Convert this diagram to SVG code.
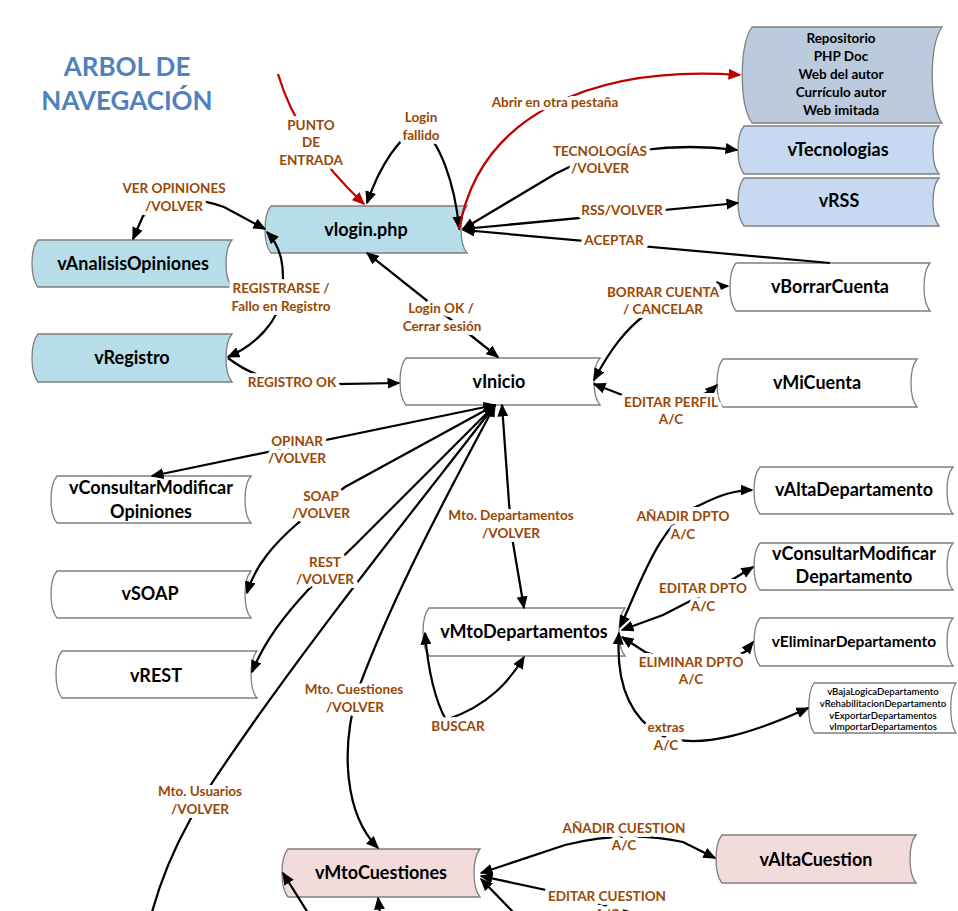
<svg xmlns="http://www.w3.org/2000/svg" width="958" height="911" viewBox="0 0 958 911">
<style>
.nd{stroke:#7f7f7f;stroke-width:1.3}
.blue{fill:#b7dde8}
.wht{fill:#ffffff}
.pink{fill:#f2dcdb}
.lb{fill:#c6d9f1}
.gb{fill:#bccadd}
.nt{font-family:Lato,"Liberation Sans",sans-serif;font-weight:bold;font-size:18px;fill:#000;text-anchor:middle}
.sm{font-size:13.5px}
.xs{font-family:Lato,"Liberation Sans",sans-serif;font-size:9.6px;font-weight:600;fill:#000;text-anchor:middle}
.c{fill:none;stroke:#000;stroke-width:2.25}
.r{fill:none;stroke:#c00000;stroke-width:2.25}
.lbl{font-family:Lato,"Liberation Sans",sans-serif;font-weight:bold;font-size:13.5px;fill:#984806;text-anchor:middle;paint-order:stroke;stroke:#fff;stroke-width:8;stroke-linejoin:round}
.title{font-family:Lato,"Liberation Sans",sans-serif;font-weight:bold;font-size:26px;fill:#4f81bd;text-anchor:middle}
</style>
<defs>
<marker id="ah" viewBox="0 0 13 11" refX="11.5" refY="5.5" markerWidth="13" markerHeight="11" markerUnits="userSpaceOnUse" orient="auto-start-reverse"><path d="M0,0 L13,5.5 L0,11 z" fill="#000"/></marker>
<marker id="ahr" viewBox="0 0 13 11" refX="11.5" refY="5.5" markerWidth="13" markerHeight="11" markerUnits="userSpaceOnUse" orient="auto-start-reverse"><path d="M0,0 L13,5.5 L0,11 z" fill="#c00000"/></marker>
</defs>
<rect width="958" height="911" fill="#fff"/>
<g id="title">
<text class="title" x="127" y="76">ARBOL DE</text>
<text class="title" x="127" y="110">NAVEGACIÓN</text>
</g>
<g id="nodes">
<g id="vlogin"><path class="nd blue" d="M271,206 H467 C459,215.4 459,243.6 467,253 H271 C263,243.6 263,215.4 271,206 Z"/><text class="nt" x="366" y="236">vlogin.php</text></g>
<g id="vAnalisisOpiniones"><path class="nd blue" d="M38,240 H232 C224,249.4 224,277.6 232,287 H38 C30,277.6 30,249.4 38,240 Z"/><text class="nt" x="133" y="270">vAnalisisOpiniones</text></g>
<g id="vRegistro"><path class="nd blue" d="M38,334 H232 C224,343.6 224,372.4 232,382 H38 C30,372.4 30,343.6 38,334 Z"/><text class="nt" x="132" y="364">vRegistro</text></g>
<g id="vInicio"><path class="nd wht" d="M406,358 H600 C592,367.4 592,395.6 600,405 H406 C398,395.6 398,367.4 406,358 Z"/><text class="nt" x="499" y="388">vInicio</text></g>
<g id="vConsultarModificarOpiniones"><path class="nd wht" d="M57,476 H251 C243,485.4 243,513.6 251,523 H57 C49,513.6 49,485.4 57,476 Z"/><text class="nt" x="151" y="494">vConsultarModificar</text><text class="nt" x="151" y="518">Opiniones</text></g>
<g id="vSOAP"><path class="nd wht" d="M57,571 H251 C243,580.4 243,608.6 251,618 H57 C49,608.6 49,580.4 57,571 Z"/><text class="nt" x="150" y="600">vSOAP</text></g>
<g id="vREST"><path class="nd wht" d="M62,651 H257 C249,660.4 249,688.6 257,698 H62 C54,688.6 54,660.4 62,651 Z"/><text class="nt" x="156" y="682">vREST</text></g>
<g id="vMtoDepartamentos"><path class="nd wht" d="M429,608 H625 C617,617.6 617,646.4 625,656 H429 C421,646.4 421,617.6 429,608 Z"/><text class="nt" x="524" y="638">vMtoDepartamentos</text></g>
<g id="vMtoCuestiones"><path class="nd pink" d="M288,849 H480 C472,858.6 472,887.4 480,897 H288 C280,887.4 280,858.6 288,849 Z"/><text class="nt" x="381" y="879">vMtoCuestiones</text></g>
<g id="vBorrarCuenta"><path class="nd wht" d="M736,263 H930 C922,272.6 922,301.4 930,311 H736 C728,301.4 728,272.6 736,263 Z"/><text class="nt" x="830" y="293">vBorrarCuenta</text></g>
<g id="vMiCuenta"><path class="nd wht" d="M723,359 H917 C909,368.6 909,397.4 917,407 H723 C715,397.4 715,368.6 723,359 Z"/><text class="nt" x="817" y="389">vMiCuenta</text></g>
<g id="vAltaDepartamento"><path class="nd wht" d="M760,467 H953 C945,476.4 945,504.6 953,514 H760 C752,504.6 752,476.4 760,467 Z"/><text class="nt" x="854" y="496">vAltaDepartamento</text></g>
<g id="vConsultarModificarDepartamento"><path class="nd wht" d="M760,543 H953 C945,552.4 945,580.6 953,590 H760 C752,580.6 752,552.4 760,543 Z"/><text class="nt" x="854" y="560">vConsultarModificar</text><text class="nt" x="854" y="583">Departamento</text></g>
<g id="vEliminarDepartamento"><path class="nd wht" d="M760,618 H953 C945,627.6 945,656.4 953,666 H760 C752,656.4 752,627.6 760,618 Z"/><text class="nt" x="854" y="647" style="font-size:15.5px">vEliminarDepartamento</text></g>
<g id="vExtrasDepartamento"><path class="nd wht" d="M814,683 H956 C949,693 949,723 956,733 H814 C807,723 807,693 814,683 Z"/><text class="xs" x="883" y="695">vBajaLogicaDepartamento</text><text class="xs" x="883" y="707">vRehabilitacionDepartamento</text><text class="xs" x="883" y="718.5">vExportarDepartamentos</text><text class="xs" x="883" y="730">vImportarDepartamentos</text></g>
<g id="vAltaCuestion"><path class="nd pink" d="M722,835 H916 C908,844.6 908,873.4 916,883 H722 C714,873.4 714,844.6 722,835 Z"/><text class="nt" x="816" y="866">vAltaCuestion</text></g>
<g id="vEnlaces"><path class="nd gb" d="M752,27 H942 C929,46 929,104 942,123 H752 C739,104 739,46 752,27 Z"/><text class="nt sm" x="841" y="43">Repositorio</text><text class="nt sm" x="841" y="61">PHP Doc</text><text class="nt sm" x="841" y="79">Web del autor</text><text class="nt sm" x="841" y="97">Currículo autor</text><text class="nt sm" x="841" y="115">Web imitada</text></g>
<g id="vTecnologias"><path class="nd lb" d="M744,126 H939 C931,135.6 931,164.4 939,174 H744 C736,164.4 736,135.6 744,126 Z"/><text class="nt" x="838" y="156">vTecnologias</text></g>
<g id="vRSS"><path class="nd lb" d="M744,178 H939 C931,187.6 931,216.4 939,226 H744 C736,216.4 736,187.6 744,178 Z"/><text class="nt" x="839" y="207">vRSS</text></g>
</g>
<g id="connectors">
<path class="r" d="M278,74 Q298,142 364,204" marker-end="url(#ahr)"/>
<path class="c" d="M367,203 C380,165 400,135 420,128 C440,140 455,185 459,228" marker-start="url(#ah)" marker-end="url(#ah)"/>
<path class="c" d="M463,229 L555,174 Q600,150 643,150 Q690,144 737,150" marker-start="url(#ah)" marker-end="url(#ah)"/>
<path class="c" d="M463,229 L738,203" marker-start="url(#ah)" marker-end="url(#ah)"/>
<path class="c" d="M830,263 L463,230" marker-end="url(#ah)"/>
<path class="r" d="M459,230 C480,110 600,65 740,75" marker-end="url(#ahr)"/>
<path class="c" d="M133,239 L143,216 Q180,190 224,207 L265,229" marker-start="url(#ah)" marker-end="url(#ah)"/>
<path class="c" d="M267,232 C282,248 285,268 282,295 C279,322 255,345 228,357" marker-start="url(#ah)" marker-end="url(#ah)"/>
<path class="c" d="M228,358 Q245,371 262,376 L335,384 L399,383" marker-end="url(#ah)"/>
<path class="c" d="M367,253 L498,357" marker-start="url(#ah)" marker-end="url(#ah)"/>
<path class="c" d="M594,380 C610,350 625,330 645,315 C670,297 700,287 728,286" marker-start="url(#ah)" marker-end="url(#ah)"/>
<path class="c" d="M594,384 L630,398 Q690,410 717,385" marker-start="url(#ah)" marker-end="url(#ah)"/>
<path class="c" d="M495,405 L152,476" marker-start="url(#ah)" marker-end="url(#ah)"/>
<path class="c" d="M495,405 L345,487 L298,523 C275,543 255,565 247,593" marker-start="url(#ah)" marker-end="url(#ah)"/>
<path class="c" d="M495,405 L355,545 L308,590 C285,615 265,640 252,672" marker-start="url(#ah)" marker-end="url(#ah)"/>
<path class="c" d="M495,405 C430,490 300,650 212,783 L190,820 Q165,865 152,912" marker-start="url(#ah)"/>
<path class="c" d="M495,405 C455,480 395,590 358,690 C340,750 345,815 378,848" marker-start="url(#ah)" marker-end="url(#ah)"/>
<path class="c" d="M502,405 L509,503 L513,543 L524,608" marker-start="url(#ah)" marker-end="url(#ah)"/>
<path class="c" d="M425,633 C428,670 435,700 446,720 C490,705 510,680 524,657" marker-start="url(#ah)" marker-end="url(#ah)"/>
<path class="c" d="M620,627 C640,585 660,520 700,505 C720,495 735,490 752,490" marker-start="url(#ah)" marker-end="url(#ah)"/>
<path class="c" d="M622,630 L663,615 L735,578 L753,567" marker-start="url(#ah)" marker-end="url(#ah)"/>
<path class="c" d="M622,637 L645,652 Q700,672 745,652 L753,642" marker-start="url(#ah)" marker-end="url(#ah)"/>
<path class="c" d="M619,633 C615,690 635,720 660,735 C700,752 760,730 808,708" marker-start="url(#ah)" marker-end="url(#ah)"/>
<path class="c" d="M481,873 L565,845 Q625,830 683,842 L715,858" marker-start="url(#ah)" marker-end="url(#ah)"/>
<path class="c" d="M481,876 L560,893 L640,915" marker-start="url(#ah)"/>
<path class="c" d="M481,879 L513,912" marker-start="url(#ah)"/>
<path class="c" d="M380,913 L378,898" marker-end="url(#ah)"/>
<path class="c" d="M308,913 L283,873" marker-end="url(#ah)"/>
<g id="edge-labels">
<text class="lbl"><tspan x="311" y="129.5">PUNTO</tspan><tspan x="311" y="147">DE</tspan><tspan x="311" y="165">ENTRADA</tspan></text>
<text class="lbl"><tspan x="421" y="122">Login</tspan><tspan x="421" y="139.5">fallido</tspan></text>
<text class="lbl" x="555" y="107">Abrir en otra pestaña</text>
<text class="lbl"><tspan x="600" y="155.5">TECNOLOGÍAS</tspan><tspan x="600" y="173">/VOLVER</tspan></text>
<text class="lbl" x="622" y="215">RSS/VOLVER</text>
<text class="lbl" x="614" y="245">ACEPTAR</text>
<text class="lbl"><tspan x="174" y="193">VER OPINIONES</tspan><tspan x="174" y="211">/VOLVER</tspan></text>
<text class="lbl"><tspan x="281" y="293">REGISTRARSE /</tspan><tspan x="281" y="311">Fallo en Registro</tspan></text>
<text class="lbl"><tspan x="441" y="313">Login OK /</tspan><tspan x="442" y="331">Cerrar sesión</tspan></text>
<text class="lbl" x="292" y="387">REGISTRO OK</text>
<text class="lbl"><tspan x="663" y="297">BORRAR CUENTA</tspan><tspan x="663" y="314">/ CANCELAR</tspan></text>
<text class="lbl"><tspan x="671" y="407">EDITAR PERFIL</tspan><tspan x="671" y="424">A/C</tspan></text>
<text class="lbl"><tspan x="297" y="446">OPINAR</tspan><tspan x="297" y="463">/VOLVER</tspan></text>
<text class="lbl"><tspan x="321" y="501">SOAP</tspan><tspan x="321" y="518">/VOLVER</tspan></text>
<text class="lbl"><tspan x="325" y="567">REST</tspan><tspan x="325" y="584">/VOLVER</tspan></text>
<text class="lbl"><tspan x="511" y="520">Mto. Departamentos</tspan><tspan x="511" y="538">/VOLVER</tspan></text>
<text class="lbl"><tspan x="683" y="521">AÑADIR DPTO</tspan><tspan x="683" y="539">A/C</tspan></text>
<text class="lbl"><tspan x="703" y="593">EDITAR DPTO</tspan><tspan x="703" y="611">A/C</tspan></text>
<text class="lbl"><tspan x="691" y="667">ELIMINAR DPTO</tspan><tspan x="691" y="684">A/C</tspan></text>
<text class="lbl"><tspan x="666" y="732">extras</tspan><tspan x="666" y="750">A/C</tspan></text>
<text class="lbl" x="458" y="731">BUSCAR</text>
<text class="lbl"><tspan x="354" y="694">Mto. Cuestiones</tspan><tspan x="355" y="712">/VOLVER</tspan></text>
<text class="lbl"><tspan x="200" y="796">Mto. Usuarios</tspan><tspan x="200" y="814">/VOLVER</tspan></text>
<text class="lbl"><tspan x="624" y="833">AÑADIR CUESTION</tspan><tspan x="624" y="850">A/C</tspan></text>
<text class="lbl"><tspan x="607" y="901">EDITAR CUESTION</tspan><tspan x="607" y="919">A/C</tspan></text>
</g>
</g>
</svg>
